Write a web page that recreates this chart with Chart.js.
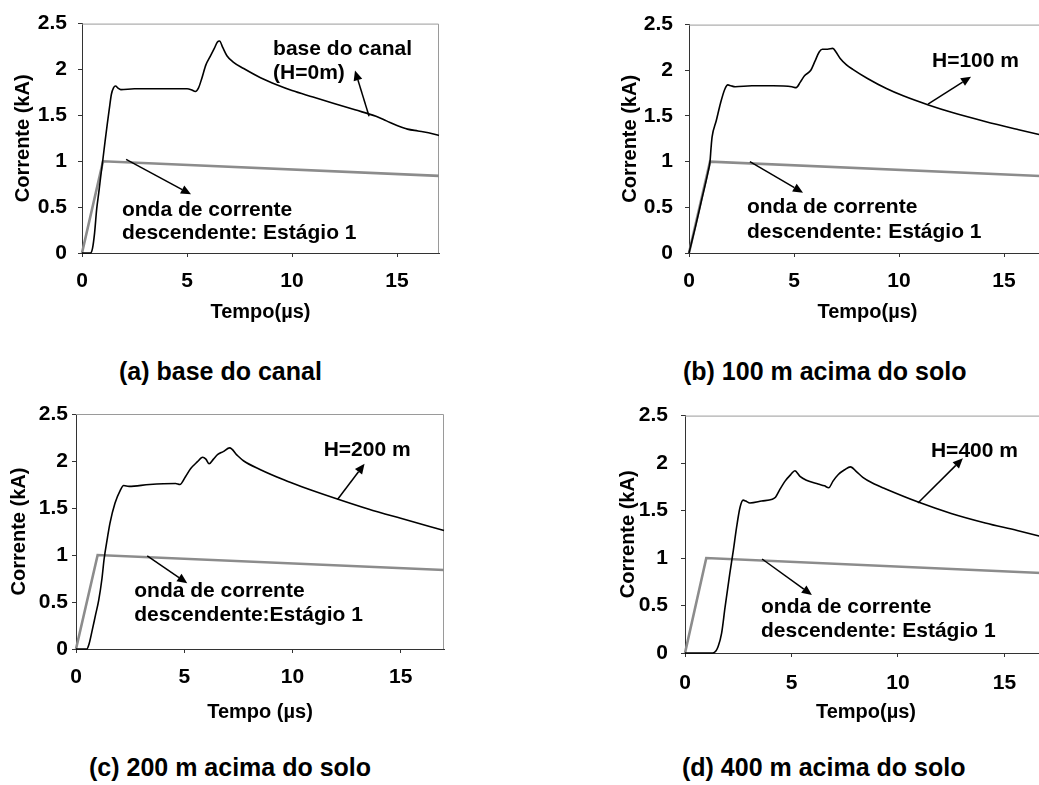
<!DOCTYPE html>
<html>
<head>
<meta charset="utf-8">
<script src="https://cdn.jsdelivr.net/npm/chart.js@4.4.1/dist/chart.umd.min.js"></script>
<style>
  html, body { margin: 0; padding: 0; background: #fff; overflow: hidden; }
  body { width: 1039px; height: 785px; position: relative; }
  canvas { position: absolute; }
  .caption { position: absolute; font: bold 25px "Liberation Sans", Arial, sans-serif; line-height: 30px; white-space: nowrap; color: #000; }
</style>
</head>
<body>
<canvas id="chartA" width="452" height="330" style="left:0;top:0"></canvas>
<canvas id="chartB" width="452" height="330" style="left:607px;top:0"></canvas>
<canvas id="chartC" width="458" height="340" style="left:0;top:390px"></canvas>
<canvas id="chartD" width="452" height="340" style="left:609px;top:390px"></canvas>
<div class="caption" style="left:119px;top:356px">(a) base do canal</div>
<div class="caption" style="left:683px;top:356px">(b) 100 m acima do solo</div>
<div class="caption" style="left:89px;top:752px">(c) 200 m acima do solo</div>
<div class="caption" style="left:682px;top:752px">(d) 400 m acima do solo</div>
<script>
"use strict";

// onda de corrente descendente (Estágio 1), same in all panels
const waveTime = [0, 1, 17]
const waveCurrent = [0, 1, 0.84]

// (a) base do canal
const timeA = [0, 0.4, 0.5, 0.6, 0.7, 0.8, 0.9, 1.0, 1.1, 1.2, 1.3, 1.4, 1.5, 1.6, 1.7, 1.85, 2.5, 4.0, 5.0, 5.2, 5.4, 5.55, 5.7, 5.9, 6.1, 6.3, 6.45, 6.55, 6.7, 6.9, 7.2, 7.7, 8.5, 9.3, 10, 11, 12, 13, 14, 14.5, 15, 15.5, 16, 16.5, 17]
const currentA = [0, 0, 0.05, 0.22, 0.48, 0.66, 0.85, 1.03, 1.22, 1.40, 1.57, 1.73, 1.80, 1.82, 1.80, 1.78, 1.79, 1.79, 1.79, 1.78, 1.76, 1.80, 1.90, 2.05, 2.14, 2.23, 2.30, 2.31, 2.24, 2.15, 2.08, 2.01, 1.91, 1.83, 1.77, 1.70, 1.63, 1.56, 1.49, 1.44, 1.39, 1.35, 1.33, 1.31, 1.28]

// (b) H = 100 m
const timeB = [0, 0.3, 0.6, 0.9, 1.0, 1.05, 1.1, 1.3, 1.5, 1.7, 1.85, 2.0, 2.2, 3, 4, 4.9, 5.1, 5.3, 5.5, 5.8, 6.0, 6.2, 6.35, 6.6, 6.85, 7.0, 7.2, 7.5, 7.8, 8.5, 9.4, 10.2, 11.4, 12.5, 14.1, 15.7, 17]
const currentB = [0, 0.28, 0.58, 0.88, 1.0, 1.15, 1.27, 1.45, 1.64, 1.79, 1.84, 1.83, 1.82, 1.83, 1.83, 1.82, 1.81, 1.87, 1.94, 2.00, 2.10, 2.20, 2.23, 2.23, 2.24, 2.20, 2.13, 2.06, 2.01, 1.91, 1.80, 1.72, 1.62, 1.54, 1.44, 1.35, 1.28]

// (c) H = 200 m
const timeC = [0, 0.5, 0.6, 0.75, 0.9, 1.05, 1.2, 1.3, 1.45, 1.57, 1.8, 2.05, 2.2, 2.45, 3.4, 4.6, 4.8, 5.05, 5.3, 5.6, 5.85, 6.0, 6.15, 6.35, 6.55, 6.8, 7.1, 7.45, 7.75, 8.5, 9.6, 10.4, 11.9, 13.5, 15, 17]
const currentC = [0, 0, 0.05, 0.2, 0.36, 0.52, 0.75, 0.96, 1.18, 1.34, 1.55, 1.69, 1.74, 1.73, 1.75, 1.76, 1.75, 1.83, 1.92, 1.99, 2.04, 2.02, 1.97, 2.02, 2.07, 2.10, 2.14, 2.06, 2.00, 1.91, 1.80, 1.73, 1.61, 1.49, 1.39, 1.26]

// (d) H = 400 m
const timeD = [0, 1.3, 1.45, 1.56, 1.72, 1.88, 2.1, 2.27, 2.42, 2.58, 2.73, 2.85, 3.05, 3.6, 4.1, 4.25, 4.45, 4.7, 4.97, 5.16, 5.4, 5.7, 6.25, 6.55, 6.75, 6.95, 7.2, 7.5, 7.77, 8.05, 8.35, 8.8, 9.4, 10.95, 12.5, 14.1, 15.6, 17]
const currentD = [0, 0, 0.02, 0.07, 0.21, 0.48, 0.83, 1.08, 1.32, 1.53, 1.61, 1.60, 1.58, 1.60, 1.62, 1.64, 1.72, 1.81, 1.88, 1.92, 1.86, 1.82, 1.78, 1.76, 1.74, 1.81, 1.88, 1.93, 1.96, 1.91, 1.85, 1.79, 1.73, 1.59, 1.47, 1.37, 1.29, 1.21]

const timeTicks = [0, 5, 10, 15]
const currentTicks = [0, 0.5, 1, 1.5, 2, 2.5]

const fontFamily = '"Liberation Sans", Arial, sans-serif'
const tickFont = { family: fontFamily, size: 21, weight: 'bold' }
const titleFont = { family: fontFamily, size: 20, weight: 'bold' }

const toPoints = (xs, ys) => xs.map((x, i) => ({ x, y: ys[i] }))

const frame = {
	id: 'frame',
	beforeDatasetsDraw(chart) {
		const { ctx, chartArea: { left, top, right, bottom } } = chart
		ctx.save()
		ctx.strokeStyle = '#9a9a9a'
		ctx.lineWidth = 1
		ctx.beginPath()
		ctx.moveTo(left, top + 0.5)
		ctx.lineTo(right - 0.5, top + 0.5)
		ctx.lineTo(right - 0.5, bottom)
		ctx.stroke()
		ctx.restore()
	}
}

function drawArrow(ctx, x1, y1, x2, y2) {
	const a = Math.atan2(y2 - y1, x2 - x1)
	const len = 10, half = 4.5
	const bx = x2 - len * Math.cos(a), by = y2 - len * Math.sin(a)
	ctx.beginPath()
	ctx.moveTo(x1, y1)
	ctx.lineTo(bx, by)
	ctx.stroke()
	ctx.beginPath()
	ctx.moveTo(x2, y2)
	ctx.lineTo(bx + half * Math.sin(a), by - half * Math.cos(a))
	ctx.lineTo(bx - half * Math.sin(a), by + half * Math.cos(a))
	ctx.closePath()
	ctx.fill()
}

function makeChart(id, time, current, box, notes) {
	const notesPlugin = {
		id: 'notes',
		afterDatasetsDraw(chart) {
			const { ctx, scales: { x, y } } = chart
			ctx.save()
			ctx.fillStyle = '#000'
			ctx.strokeStyle = '#000'
			ctx.lineWidth = 1.5
			ctx.font = 'bold 21px ' + fontFamily
			ctx.textBaseline = 'middle'
			notes.labels.forEach(l => ctx.fillText(l.text, x.getPixelForValue(l.x), y.getPixelForValue(l.y)))
			notes.arrows.forEach(a => drawArrow(ctx,
				x.getPixelForValue(a[0]), y.getPixelForValue(a[1]),
				x.getPixelForValue(a[2]), y.getPixelForValue(a[3])))
			ctx.restore()
		}
	}
	return new Chart(document.getElementById(id).getContext('2d'), {
		type: 'scatter',
		data: {
			datasets: [{
				data: toPoints(time, current),
				showLine: true,
				borderColor: '#000',
				borderWidth: 1.6,
				pointRadius: 0,
				cubicInterpolationMode: 'monotone',
				clip: false
			}, {
				data: toPoints(waveTime, waveCurrent),
				showLine: true,
				borderColor: '#8c8c8c',
				borderWidth: 2.6,
				pointRadius: 0,
				clip: false
			}]
		},
		options: {
			responsive: false,
			animation: false,
			devicePixelRatio: 1,
			layout: { padding: { left: 0, top: box.top, right: box.right, bottom: 0 } },
			plugins: { legend: { display: false }, tooltip: { enabled: false } },
			scales: {
				x: {
					type: 'linear',
					min: 0,
					max: 17,
					afterFit: s => { s.height = box.xh },
					afterBuildTicks: s => { s.ticks = timeTicks.map(v => ({ value: v })) },
					ticks: { color: '#000', font: tickFont, padding: box.xpad, callback: v => String(v) },
					grid: { drawOnChartArea: false, tickLength: 4, color: '#333' },
					border: { color: '#333' },
					title: { display: true, text: box.xtitle, color: '#000', font: titleFont, padding: { top: 0, bottom: box.xtp } }
				},
				y: {
					type: 'linear',
					min: 0,
					max: 2.5,
					afterFit: s => { s.width = box.yw },
					afterBuildTicks: s => { s.ticks = currentTicks.map(v => ({ value: v })) },
					ticks: { color: '#000', font: tickFont, padding: box.ypad, callback: v => String(v) },
					grid: { drawOnChartArea: false, tickLength: 4, color: '#333' },
					border: { color: '#333' },
					title: { display: true, text: 'Corrente (kA)', color: '#000', font: titleFont, padding: { top: box.ytp, bottom: 0 } }
				}
			}
		},
		plugins: [frame, notesPlugin]
	})
}

makeChart('chartA', timeA, currentA,
	{ top: 17, right: 13, xh: 77, yw: 82, xpad: 12, ypad: 11, xtp: 6, ytp: 11, xtitle: 'Tempo(\u00b5s)' },
	{
		labels: [
			{ x: 9.1, y: 2.22, text: 'base do canal' },
			{ x: 9.1, y: 1.96, text: '(H=0m)' },
			{ x: 1.9, y: 0.47, text: 'onda de corrente' },
			{ x: 1.9, y: 0.22, text: 'descendente: Estágio 1' }
		],
		arrows: [[13.67, 1.49, 13.0, 1.99], [2.1, 1.02, 5.19, 0.64]]
	})

makeChart('chartB', timeB, currentB,
	{ top: 17, right: 13, xh: 77, yw: 82, xpad: 12, ypad: 12, xtp: 6, ytp: 11, xtitle: 'Tempo(\u00b5s)' },
	{
		labels: [
			{ x: 11.57, y: 2.10, text: 'H=100 m' },
			{ x: 2.76, y: 0.50, text: 'onda de corrente' },
			{ x: 2.76, y: 0.23, text: 'descendente: Estágio 1' }
		],
		arrows: [[11.38, 1.63, 13.43, 1.93], [2.9, 1.0, 5.43, 0.66]]
	})

makeChart('chartC', timeC, currentC,
	{ top: 24, right: 14, xh: 81, yw: 76, xpad: 12, ypad: 4, xtp: 6, ytp: 7, xtitle: 'Tempo (\u00b5s)' },
	{
		labels: [
			{ x: 11.44, y: 2.12, text: 'H=200 m' },
			{ x: 2.69, y: 0.62, text: 'onda de corrente' },
			{ x: 2.69, y: 0.36, text: 'descendente:Estágio 1' }
		],
		arrows: [[12.08, 1.59, 13.33, 1.97], [3.29, 0.99, 5.14, 0.70]]
	})

makeChart('chartD', timeD, currentD,
	{ top: 24, right: 14, xh: 77, yw: 76, xpad: 14, ypad: 13, xtp: 6, ytp: 7, xtitle: 'Tempo(\u00b5s)' },
	{
		labels: [
			{ x: 11.55, y: 2.12, text: 'H=400 m' },
			{ x: 3.57, y: 0.48, text: 'onda de corrente' },
			{ x: 3.57, y: 0.23, text: 'descendente: Estágio 1' }
		],
		arrows: [[10.94, 1.58, 13.05, 2.05], [3.62, 0.99, 5.96, 0.61]]
	})
</script>
</body>
</html>
